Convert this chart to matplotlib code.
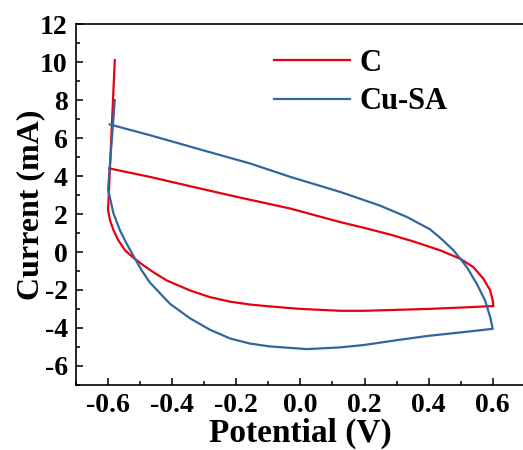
import matplotlib
matplotlib.use("Agg")
import matplotlib.pyplot as plt
from matplotlib.ticker import MultipleLocator

# Cyclic voltammetry data (potential in V, current in mA)
c_potential = [-0.579, -0.6, -0.594, -0.583, -0.568, -0.547, -0.521, -0.49, -0.459, -0.417,
               -0.344, -0.282, -0.219, -0.157, -0.095, 0.0, 0.124, 0.2, 0.3, 0.4, 0.5, 0.602,
               0.6, 0.592, 0.571, 0.539, 0.498, 0.436, 0.352, 0.28, 0.2, 0.124, -0.031, -0.188,
               -0.313, -0.469, -0.596]
c_current = [10.12, 2.2, 1.68, 1.15, 0.62, 0.09, -0.3, -0.7, -1.06, -1.5,
             -2.03, -2.38, -2.62, -2.77, -2.87, -3.0, -3.1, -3.1, -3.05, -3.0, -2.93, -2.85,
             -2.55, -2.02, -1.41, -0.79, -0.35, 0.09, 0.56, 0.92, 1.27, 1.58, 2.29, 2.87,
             3.35, 3.96, 4.41]

cusa_potential = [-0.579, -0.6, -0.583, -0.563, -0.542, -0.516, -0.495, -0.47, -0.407, -0.344,
                  -0.282, -0.219, -0.157, -0.095, 0.02, 0.124, 0.2, 0.3, 0.4, 0.5, 0.6,
                  0.592, 0.576, 0.55, 0.519, 0.477, 0.436, 0.404, 0.332, 0.248, 0.124,
                  -0.031, -0.157, -0.313, -0.469, -0.595]
cusa_current = [8.01, 3.3, 2.03, 1.15, 0.44, -0.35, -0.97, -1.6, -2.73, -3.5,
                -4.1, -4.56, -4.83, -4.98, -5.12, -5.03, -4.9, -4.65, -4.42, -4.24, -4.05,
                -3.43, -2.55, -1.67, -0.79, 0.1, 0.75, 1.2, 1.85, 2.45, 3.17,
                3.96, 4.67, 5.41, 6.16, 6.73]

plt.rcParams['font.family'] = 'Liberation Serif'
plt.rcParams['font.weight'] = 'bold'

fig = plt.figure(figsize=(5.23, 4.5), dpi=100)
ax = fig.add_axes([76 / 523, 0.145, 448.8 / 523, 0.8006])

ax.plot(c_potential, c_current, color='#e60012', lw=1.6, label='C')
ax.plot(cusa_potential, cusa_current, color='#33659f', lw=1.6, label='Cu-SA')

ax.set_xlim(-0.7, 0.7)
ax.set_ylim(-7, 12)
ax.xaxis.set_minor_locator(MultipleLocator(0.1))
ax.yaxis.set_minor_locator(MultipleLocator(1))
ax.set_xticks([-0.6, -0.4, -0.2, 0.0, 0.2, 0.4, 0.6])
ax.set_xticklabels(['-0.6', '-0.4', '-0.2', '0.0', '0.2', '0.4', '0.6'])
ax.set_yticks(range(-6, 13, 2))
ax.set_yticklabels([str(v) for v in range(-6, 13, 2)])

ax.tick_params(which='both', direction='in', labelsize=20, width=1.1, pad=6)
ax.tick_params(which='major', length=5)
ax.tick_params(which='minor', length=3)
for side in ['left', 'bottom', 'top']:
    ax.spines[side].set_linewidth(1.2)
ax.spines['right'].set_visible(False)

ax.set_xlabel('Potential (V)', fontsize=24, fontweight='bold', labelpad=0)
ax.set_ylabel('Current (mA)', fontsize=23, fontweight='bold', labelpad=-4)

ax.legend(loc='upper left', bbox_to_anchor=(0.441, 0.933), frameon=False,
          fontsize=22, handlelength=2.5, handletextpad=0.3, labelspacing=0.32,
          borderpad=0, borderaxespad=0)

fig.savefig('out.png', dpi=100)
